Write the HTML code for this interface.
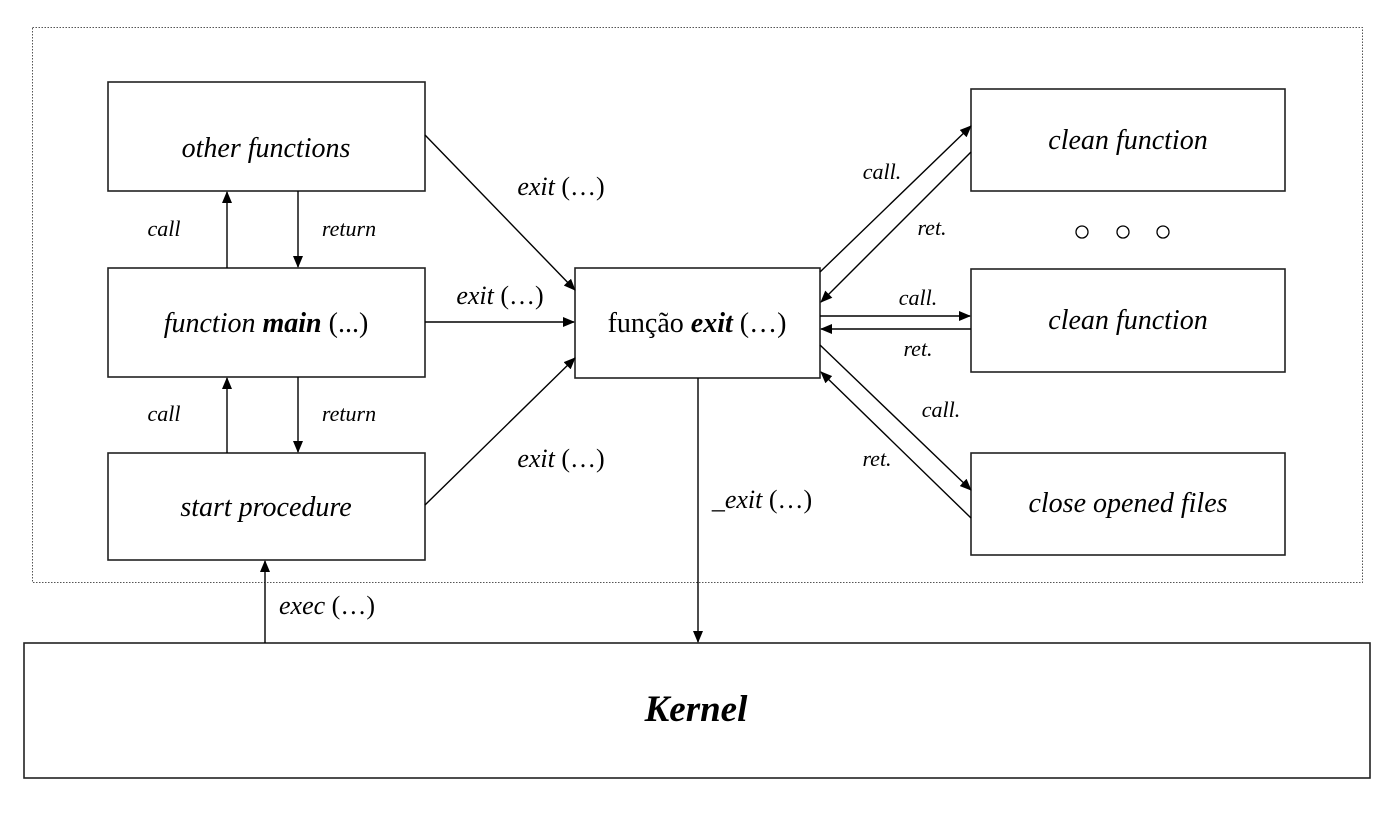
<!DOCTYPE html>
<html><head><meta charset="utf-8"><style>
html,body{margin:0;padding:0;background:#fff;}
svg text{font-family:"Liberation Serif",serif;font-style:italic;fill:#000;}
</style></head><body>
<svg width="1400" height="817" viewBox="0 0 1400 817" xmlns="http://www.w3.org/2000/svg">
<defs>
<marker id="a" markerWidth="12" markerHeight="10" refX="11" refY="5" orient="auto" markerUnits="userSpaceOnUse">
<path d="M0,0 L12,5 L0,10 z" fill="#000"/></marker>
</defs>
<rect x="32.5" y="27.5" width="1330" height="555" fill="none" stroke="#555" stroke-width="1" stroke-dasharray="1.5,1.5"/>
<g fill="#fff" stroke="#222" stroke-width="1.6">
<rect x="108" y="82" width="317" height="109"/>
<rect x="108" y="268" width="317" height="109"/>
<rect x="108" y="453" width="317" height="107"/>
<rect x="575" y="268" width="245" height="110"/>
<rect x="971" y="89" width="314" height="102"/>
<rect x="971" y="269" width="314" height="103"/>
<rect x="971" y="453" width="314" height="102"/>
<rect x="24" y="643" width="1346" height="135"/>
</g>
<g stroke="#000" stroke-width="1.4" fill="none" marker-end="url(#a)">
<line x1="227" y1="268" x2="227" y2="192"/>
<line x1="298" y1="191" x2="298" y2="267"/>
<line x1="227" y1="453" x2="227" y2="378"/>
<line x1="298" y1="377" x2="298" y2="452"/>
<line x1="265" y1="643" x2="265" y2="561"/>
<line x1="698" y1="378" x2="698" y2="642"/>
<line x1="425" y1="135" x2="575" y2="290"/>
<line x1="425" y1="322" x2="574" y2="322"/>
<line x1="425" y1="505" x2="575" y2="358"/>
<line x1="820" y1="272" x2="971" y2="126"/>
<line x1="971" y1="152" x2="821" y2="302"/>
<line x1="820" y1="316" x2="970" y2="316"/>
<line x1="971" y1="329" x2="821" y2="329"/>
<line x1="820" y1="345" x2="971" y2="490"/>
<line x1="971" y1="518" x2="821" y2="372"/>
</g>
<g fill="none" stroke="#000" stroke-width="1.3">
<circle cx="1082" cy="232" r="6"/><circle cx="1123" cy="232" r="6"/><circle cx="1163" cy="232" r="6"/>
</g>
<g font-size="28" text-anchor="middle">
<text x="266" y="157">other functions</text>
<text x="266" y="332">function <tspan font-weight="bold">main</tspan><tspan font-style="normal"> (...)</tspan></text>
<text x="266" y="516">start procedure</text>
<text x="697" y="332"><tspan font-style="normal">função </tspan><tspan font-weight="bold">exit</tspan><tspan font-style="normal"> (…)</tspan></text>
<text x="1128" y="149">clean function</text>
<text x="1128" y="329">clean function</text>
<text x="1128" y="512">close opened files</text>
<text x="696" y="721" font-size="37" font-weight="bold">Kernel</text>
</g>
<g font-size="26" text-anchor="middle">
<text x="561" y="195">exit<tspan font-style="normal"> (…)</tspan></text>
<text x="500" y="304">exit<tspan font-style="normal"> (…)</tspan></text>
<text x="561" y="467">exit<tspan font-style="normal"> (…)</tspan></text>
<text x="762" y="508">_exit<tspan font-style="normal"> (…)</tspan></text>
<text x="327" y="614">exec<tspan font-style="normal"> (…)</tspan></text>
</g>
<g font-size="22" text-anchor="middle">
<text x="164" y="236">call</text>
<text x="349" y="236">return</text>
<text x="164" y="421">call</text>
<text x="349" y="421">return</text>
<text x="882" y="179">call.</text>
<text x="932" y="235">ret.</text>
<text x="918" y="305">call.</text>
<text x="918" y="356">ret.</text>
<text x="941" y="417">call.</text>
<text x="877" y="466">ret.</text>
</g>
</svg>
</body></html>
